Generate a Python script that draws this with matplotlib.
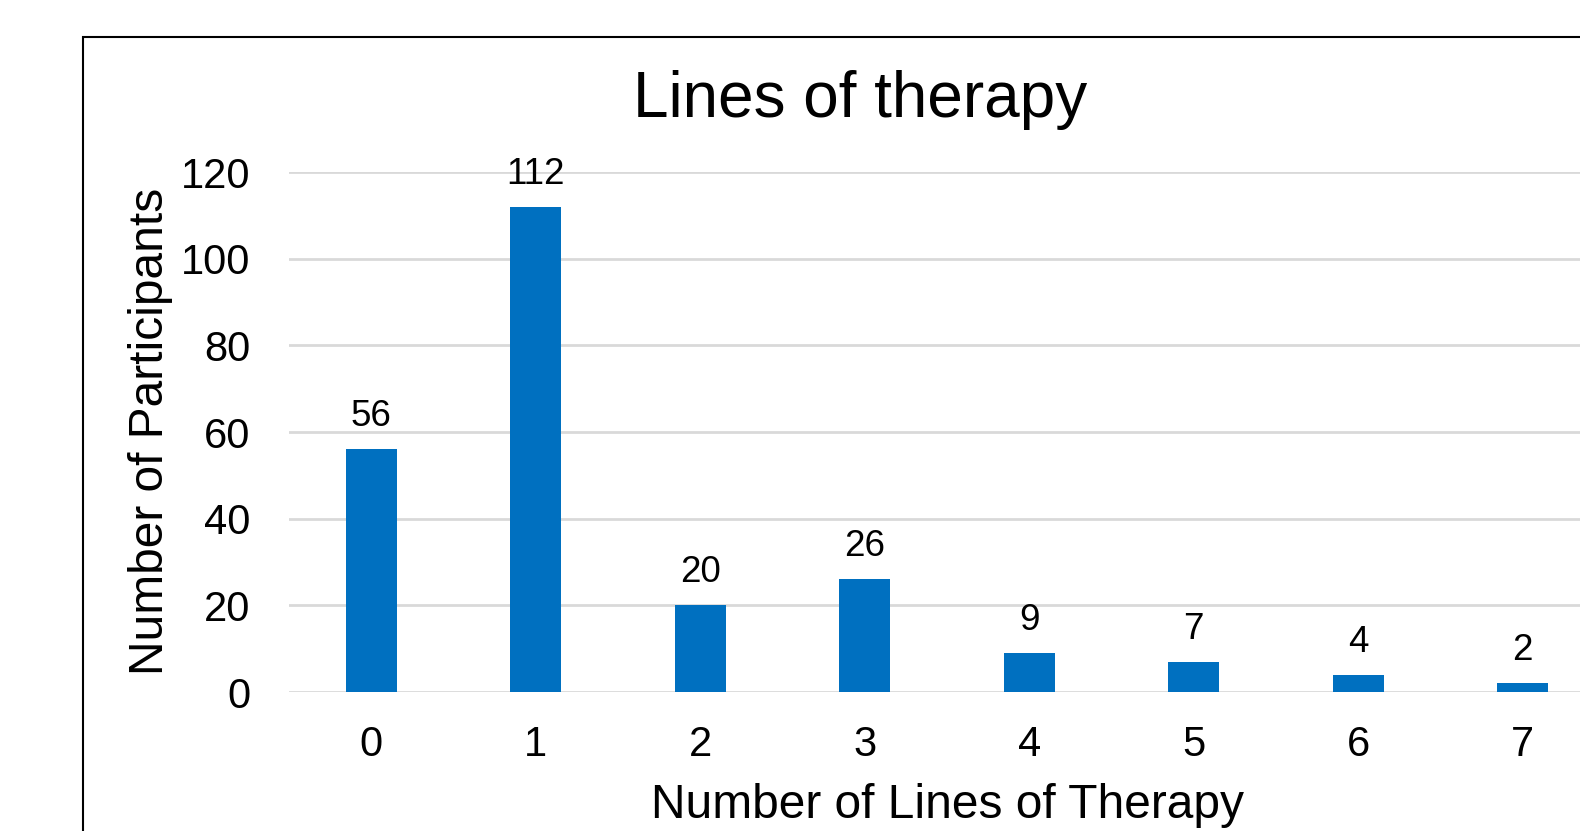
import matplotlib
matplotlib.use("Agg")
import matplotlib.pyplot as plt
from matplotlib.patches import Rectangle

categories = ["0", "1", "2", "3", "4", "5", "6", "7"]
participants = [56, 112, 20, 26, 9, 7, 4, 2]
yticks = [0, 20, 40, 60, 80, 100, 120]

plt.rcParams['font.family'] = ['Liberation Sans', 'DejaVu Sans']

W, H = 1580, 831
fig = plt.figure(figsize=(W / 100, H / 100), dpi=100)

# outer chart frame (extends beyond right/bottom edges)
fig.patches.append(Rectangle((83 / W, -0.1), 1.2, 1 - 37 / H + 0.1,
                             transform=fig.transFigure, fill=False,
                             edgecolor='black', linewidth=1.5, zorder=0))

ax_left, ax_right = 289, 1605
ax_bottom, ax_top = 692, 172
ax = fig.add_axes([ax_left / W, 1 - ax_bottom / H,
                   (ax_right - ax_left) / W, (ax_bottom - ax_top) / H])
ax.set_facecolor('none')

x = list(range(len(categories)))
bars = ax.bar(x, participants, width=0.31, color='#0070C0', linewidth=0, zorder=3)
ax.set_xlim(-0.5, len(categories) - 0.5)
ax.set_ylim(0, 120)
ax.set_yticks(yticks)
ax.set_xticks(x)
ax.set_xticklabels(categories)
ax.tick_params(axis='both', length=0, labelsize=30)
ax.tick_params(axis='y', pad=28)
ax.tick_params(axis='x', pad=24)
ax.grid(axis='y', color='#d9d9d9', linewidth=2, zorder=0)
for s in ax.spines.values():
    s.set_visible(False)

for xi, v in zip(x, participants):
    ax.annotate(str(v), (xi, v), xytext=(0, 15), textcoords='offset pixels',
                ha='center', va='bottom', fontsize=26.5)

ax.set_xlabel("Number of Lines of Therapy", fontsize=34.5, va='center')
ax.xaxis.set_label_coords(0.5, -(805 - ax_bottom) / (ax_bottom - ax_top))
ax.set_ylabel("Number of Participants", fontsize=34.5, va='center')
ax.yaxis.set_label_coords(-(ax_left - 151) / (ax_right - ax_left), 0.502)

fig.text(860 / W, 1 - 100 / H, "Lines of therapy", fontsize=46, ha='center', va='center')

fig.savefig("out.png", dpi=100)
